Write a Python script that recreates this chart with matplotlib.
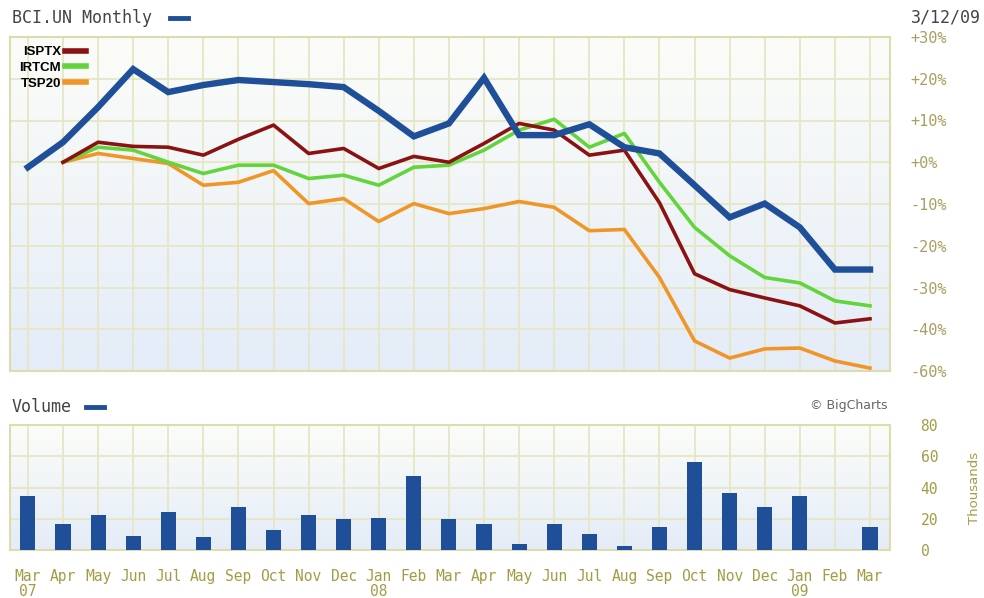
import matplotlib.pyplot as plt
import numpy as np
from matplotlib.lines import Line2D

months = ['Mar', 'Apr', 'May', 'Jun', 'Jul', 'Aug', 'Sep', 'Oct', 'Nov', 'Dec', 'Jan', 'Feb',
          'Mar', 'Apr', 'May', 'Jun', 'Jul', 'Aug', 'Sep', 'Oct', 'Nov', 'Dec', 'Jan', 'Feb', 'Mar']
years = {0: '07', 10: '08', 22: '09'}

# percent change, Mar 07 .. Mar 09 (chart units)
bci = [-1.2, 4.8, 13.2, 22.3, 16.8, 18.5, 19.7, 19.2, 18.7, 18.0, 12.3, 6.2, 9.3,
       20.2, 6.5, 6.5, 9.1, 3.6, 2.1, -5.5, -13.2, -9.9, -15.6, -25.7, -25.7]
isptx = [None, 0.0, 4.8, 3.8, 3.6, 1.7, 5.5, 8.9, 2.1, 3.3, -1.5, 1.4, 0.0,
         4.5, 9.3, 7.7, 1.7, 2.9, -9.7, -26.7, -30.5, -32.5, -34.4, -38.5, -37.5]
irtcm = [None, 0.0, 3.6, 2.9, 0.0, -2.7, -0.7, -0.7, -3.9, -3.1, -5.5, -1.2, -0.7,
         2.9, 7.7, 10.3, 3.6, 6.9, -4.8, -15.6, -22.4, -27.6, -28.9, -33.2, -34.4]
tsp20 = [None, 0.0, 2.1, 0.9, -0.3, -5.5, -4.8, -2.0, -9.9, -8.7, -14.2, -9.9, -12.3,
         -11.1, -9.4, -10.8, -16.4, -16.1, -27.6, -42.8, -46.9, -44.7, -44.5, -47.6, -49.3]
# volume, thousands
volume = [34.6, 16.6, 22.4, 9.0, 24.3, 8.3, 27.5, 12.8, 22.4, 19.8, 20.5, 47.4, 19.8,
          16.6, 3.8, 16.6, 10.2, 2.6, 14.7, 56.3, 36.5, 27.5, 34.6, 0, 14.7]

pct_ticks = [30, 20, 10, 0, -10, -20, -30, -40, -50]
pct_labels = ['+30%', '+20%', '+10%', '+0%', '-10%', '-20%', '-30%', '-40%', '-60%']
vol_ticks = [0, 20, 40, 60, 80]

BLUE = '#1f4f98'
RED = '#8a1212'
GREEN = '#62d43c'
ORANGE = '#f09628'
GRID = '#e6e6c4'
OLIVE = '#a39c45'
MONO = 'DejaVu Sans Mono'

x = np.arange(len(months))

def to_arr(s):
    return np.array([np.nan if v is None else v for v in s], dtype=float)

fig = plt.figure(figsize=(9.84, 5.98), dpi=100)
ax = fig.add_axes([10 / 984, 1 - 371 / 598, 880 / 984, 334 / 598])
axv = fig.add_axes([10 / 984, 1 - 550 / 598, 880 / 984, 125 / 598])

grad = np.linspace(0, 1, 256).reshape(-1, 1)
for a in (ax, axv):
    a.set_xlim(-0.51, 24.57)
    a.imshow(grad, extent=[0, 1, 0, 1], transform=a.transAxes, aspect='auto',
             cmap=plt.matplotlib.colors.LinearSegmentedColormap.from_list('bg', ['#fcfdf8', '#e4ecf8']),
             zorder=0, origin='upper')
    a.set_xticks(x)
    a.grid(True, color=GRID, lw=1.3, zorder=1)
    for s in a.spines.values():
        s.set_color('#dcdcae')
        s.set_linewidth(1.5)
    a.yaxis.tick_right()
    a.tick_params(length=0)

ax.set_ylim(-50, 30)
ax.set_yticks(pct_ticks)
ax.set_yticklabels(pct_labels, family=MONO, fontsize=11, color='#a8a060')
ax.tick_params(axis='y', pad=15)
ax.set_xticklabels([])

ax.plot(x, to_arr(tsp20), color=ORANGE, lw=2.6, zorder=3)
ax.plot(x, to_arr(irtcm), color=GREEN, lw=2.6, zorder=4)
ax.plot(x, to_arr(isptx), color=RED, lw=2.6, zorder=5)
ax.plot(x, bci, color=BLUE, lw=4.6, zorder=6, solid_joinstyle='miter')

handles = [Line2D([], [], color=RED, lw=4), Line2D([], [], color=GREEN, lw=4),
           Line2D([], [], color=ORANGE, lw=4)]
ax.legend(handles, ['ISPTX', 'IRTCM', 'TSP20'], loc='upper left', markerfirst=False,
          frameon=False, handlelength=1.6, handletextpad=0.3, labelspacing=0.25,
          borderaxespad=0.3, prop={'family': 'Liberation Sans', 'weight': 'bold', 'size': 9.5})

axv.bar(x, volume, width=0.43, color=BLUE, zorder=3)
axv.set_ylim(0, 80)
axv.set_yticks(vol_ticks)
axv.set_yticklabels([str(v) for v in vol_ticks], family=MONO, fontsize=10.5, color=OLIVE)
axv.tick_params(axis='y', pad=22)
axv.set_xticklabels([m + '\n' + years.get(i, '') for i, m in enumerate(months)],
                    family=MONO, fontsize=10.5, color=OLIVE, linespacing=0.95)
axv.tick_params(axis='x', pad=14)

fig.text(12 / 984, 1 - 18 / 598, 'BCI.UN Monthly', family=MONO, fontsize=12,
         color='#444444', va='center')
fig.add_artist(Line2D([170 / 984, 188 / 984], [1 - 18 / 598] * 2, color=BLUE, lw=3.5))
fig.text(981 / 984, 1 - 18 / 598, '3/12/09', family=MONO, fontsize=12,
         color='#444444', va='center', ha='right')
fig.text(12 / 984, 1 - 407 / 598, 'Volume', family=MONO, fontsize=12,
         color='#444444', va='center')
fig.add_artist(Line2D([86 / 984, 104 / 984], [1 - 407 / 598] * 2, color=BLUE, lw=3.5))
fig.text(888 / 984, 1 - 406 / 598, '\u00a9 BigCharts', fontsize=9, color='#666666',
         va='center', ha='right')
fig.text(975 / 984, 1 - 488 / 598, 'Thousands', rotation=90, fontsize=9.5, color=OLIVE,
         va='center', ha='center')

fig.savefig('out.png', dpi=100)
